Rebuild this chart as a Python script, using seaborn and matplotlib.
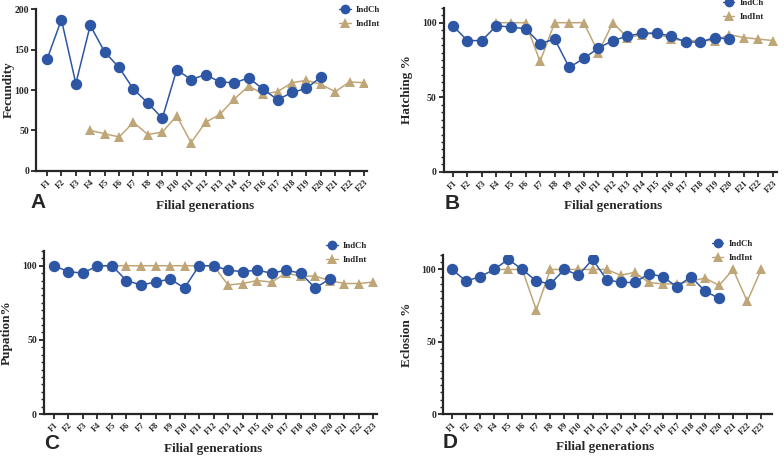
import numpy as np
import pandas as pd
import matplotlib
matplotlib.use("Agg")
import matplotlib.pyplot as plt
import seaborn as sns
from matplotlib.ticker import MultipleLocator
from matplotlib.lines import Line2D

# generations F1..F23; IndCh measured F1-F20, IndInt measured F4-F23
generations = [f"F{i}" for i in range(1, 24)]

fecundity_ch = [138, 187, 108, 180, 147, 128, 101, 84, 65, 125, 113, 119, 110, 109, 115, 101, 88, 97, 102, 116]
fecundity_int = [50, 46, 42, 60, 45, 48, 68, 35, 60, 70, 89, 105, 95, 98, 109, 112, 107, 98, 110, 109]

hatching_ch = [98, 88, 88, 98, 97, 96, 86, 89, 70, 76, 83, 88, 91, 93, 93, 91, 87, 87, 90, 89]
hatching_int = [100, 100, 100, 74, 100, 100, 100, 80, 100, 90, 92, 93, 89, 88, 88, 88, 92, 90, 89, 88]

pupation_ch = [100, 96, 95, 100, 100, 90, 87, 89, 91, 85, 100, 100, 97, 96, 97, 95, 97, 95, 85, 91]
pupation_int = [100, 100, 100, 100, 100, 100, 100, 100, 100, 87, 88, 90, 89, 95, 93, 93, 90, 88, 88, 89]

eclosion_ch = [100, 92, 95, 100, 107, 100, 92, 90, 100, 96, 107, 93, 91, 91, 97, 95, 88, 95, 85, 80]
eclosion_int = [100, 100, 100, 72, 100, 100, 100, 100, 100, 96, 98, 91, 90, 90, 92, 94, 89, 100, 78, 100]

BLUE = "#2D56A5"
TAN = "#BFA678"


def to_long(ch, intr):
    a = pd.DataFrame({"pos": np.arange(len(ch)), "value": ch, "line": "IndCh"})
    b = pd.DataFrame({"pos": np.arange(len(intr)) + 3, "value": intr, "line": "IndInt"})
    return pd.concat([a, b], ignore_index=True)


sns.set_style("ticks")
plt.rcParams["font.family"] = ["Liberation Serif", "DejaVu Serif"]
plt.rcParams["font.weight"] = "bold"

fig = plt.figure(figsize=(7.84, 4.57), dpi=100)

panels = [
    # data, ylabel, ylim top, major, minor, axes rect, xlim, legend anchor, letter, letter pos, xlabel pos, ylabel x
    (to_long(fecundity_ch, fecundity_int), "Fecundity", 200, 50, None,
     [0.046, 0.626, 0.422, 0.354], (-0.76, 22.2), (0.433, 0.987), "A", (0.048, 0.536), (0.262, 0.536), -0.063),
    (to_long(hatching_ch, hatching_int), "Hatching %", 110, 50, 5,
     [0.566, 0.624, 0.425, 0.359], (-0.62, 22.27), (0.922, 1.002), "B", (0.577, 0.534), (0.782, 0.536), -0.093),
    (to_long(pupation_ch, pupation_int), "Pupation%", 110, 50, 5,
     [0.056, 0.094, 0.425, 0.357], (-0.69, 22.27), (0.416, 0.471), "C", (0.066, 0.009), (0.272, 0.005), -0.093),
    (to_long(eclosion_ch, eclosion_int), "Eclosion %", 110, 50, 5,
     [0.565, 0.094, 0.420, 0.348], (-0.64, 22.78), (0.908, 0.476), "D", (0.574, 0.011), (0.772, 0.009), -0.091),
]

for df, ylabel, ytop, major, minor, rect, xlim, leg_anchor, letter, letter_pos, xl_pos, ylab_x in panels:
    ax = fig.add_axes(rect)
    # tan series first so the blue circles sit on top
    sns.lineplot(data=df[df["line"] == "IndInt"], x="pos", y="value", color=TAN,
                 marker="^", markersize=7.5, markeredgewidth=0, linewidth=1.1, ax=ax)
    sns.lineplot(data=df[df["line"] == "IndCh"], x="pos", y="value", color=BLUE,
                 marker="o", markersize=8.2, markeredgewidth=0, linewidth=1.1, ax=ax)

    ax.set_xlim(*xlim)
    ax.set_ylim(0, ytop)
    ax.set_xticks(np.arange(len(generations)))
    ax.set_xticklabels(generations, rotation=45, ha="right", rotation_mode="anchor",
                       fontsize=6, fontweight="bold")
    ax.yaxis.set_major_locator(MultipleLocator(major))
    if minor:
        ax.yaxis.set_minor_locator(MultipleLocator(minor))
    for t in ax.get_yticklabels():
        t.set_fontsize(7)
        t.set_fontweight("bold")
    ax.tick_params(axis="both", which="major", length=3.5, width=1.3, pad=1.5)
    ax.tick_params(axis="y", which="minor", length=2, width=1.0)
    ax.set_xlabel("")
    ax.set_ylabel(ylabel, fontsize=9.5, fontweight="bold")
    ax.yaxis.set_label_coords(ylab_x, 0.5)
    sns.despine(ax=ax)
    for s in ("left", "bottom"):
        ax.spines[s].set_linewidth(1.6)

    handles = [
        Line2D([], [], color=BLUE, marker="o", markersize=7, markeredgewidth=0, linewidth=1.0),
        Line2D([], [], color=TAN, marker="^", markersize=7, markeredgewidth=0, linewidth=1.0),
    ]
    ax.legend(handles, ["IndCh", "IndInt"], loc="upper left", bbox_to_anchor=leg_anchor,
              bbox_transform=fig.transFigure, frameon=False, handlelength=1.3,
              handletextpad=0.6, labelspacing=0.7, borderpad=0, borderaxespad=0,
              prop={"size": 6.3, "weight": "bold"})

    fig.text(xl_pos[0], xl_pos[1], "Filial generations", ha="center", va="bottom",
             fontsize=9.5, fontweight="bold")
    fig.text(letter_pos[0], letter_pos[1], letter, ha="center", va="bottom",
             fontsize=15, fontweight="bold", family=["Liberation Sans", "DejaVu Sans"])

fig.savefig("out.png", dpi=100)
